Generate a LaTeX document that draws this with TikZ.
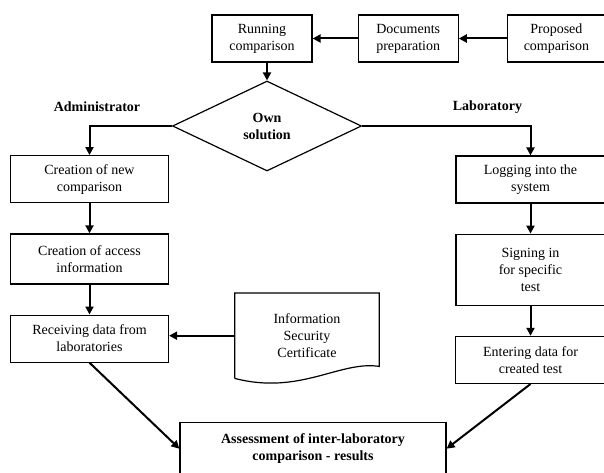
\documentclass[tikz,border=0pt]{standalone}
\usepackage{fontspec}
\setmainfont{Liberation Serif}
\usetikzlibrary{positioning,shapes.geometric,arrows.meta}

\begin{document}
\begin{tikzpicture}[x=1pt,y=-1pt,node distance=30pt,
		font=\fontsize{14}{17}\selectfont,
		block/.style={draw,line width=1.2pt,align=center,minimum width=158pt,minimum height=47pt,inner sep=2pt},
		head/.style={font=\fontsize{14}{17}\selectfont\bfseries,align=center},
		flow/.style={line width=2pt,-{Triangle[length=8pt,width=8pt]}}]
		\useasboundingbox (0,0) rectangle (604,473);
		\node[diamond,draw,line width=1.2pt,minimum width=189pt,minimum height=90pt,inner sep=0pt,head] (own) at (267,126) {Own\\solution};
		\node[block,minimum width=100pt] (running) at (262,38.5) {Running\\comparison};
		\node[block,minimum width=100pt] (docs)[right=45pt of running] {Documents\\preparation};
		\node[block,minimum width=98pt] (proposed)[right=48pt of docs] {Proposed\\comparison};
		\node[head] (admin) at (97,107) {Administrator};
		\node[head] (lab) at (487.5,107) {Laboratory};
		\node[block] (newcomp) at (89.5,179.2) {Creation of new\\comparison};
		\node[block,minimum height=50pt] (access)[below=of newcomp] {Creation of access\\information};
		\node[block] (receiving)[below=of access] {Receiving data from\\laboratories};
		\node[block,minimum width=149pt] (login) at (530.5,179.5) {Logging into the\\system};
		\node[block,minimum width=149pt,minimum height=71pt] (signin)[below=of login] {Signing in\\for specific\\test};
		\node[block,minimum width=150pt] (entering)[below=of signin] {Entering data for\\created test};
		\node[align=center,minimum width=144pt,minimum height=85pt,inner sep=0pt] (cert) at (307,335.7) {Information\\Security\\Certificate};
		\draw[line width=1.2pt] (cert.south west) -- (cert.north west) -- (cert.north east) -- ([yshift=12pt]cert.south east)
			.. controls +(-39,-6) and +(65,17) .. (cert.south west);
		\node[block,minimum width=266pt,minimum height=52pt,head] (assess) at (313,448.7) {Assessment of inter-laboratory\\comparison - results};

		\draw[flow] (docs.west) -- (running.east);
		\draw[flow] (proposed.west) -- (docs.east);
		\draw[flow] (running.south -| own.north) -- (own.north);
		\draw[flow] (own.west) -| (newcomp.north);
		\draw[flow] (own.east) -| (login.north);
		\draw[flow] (newcomp) -- (access);
		\draw[flow] (access) -- (receiving);
		\draw[flow] (login) -- (signin);
		\draw[flow] (signin) -- (entering);
		\draw[flow] (cert.west) -- (cert.west -| receiving.east);
		\draw[flow] (receiving.south) -- (assess.west);
		\draw[flow] (entering.south) -- (assess.east);
	\end{tikzpicture}
\end{document}
